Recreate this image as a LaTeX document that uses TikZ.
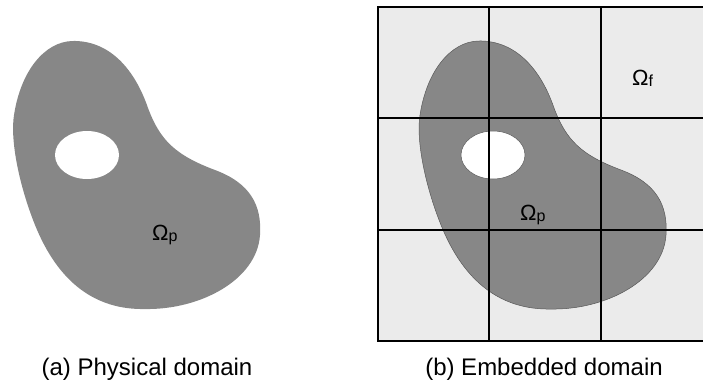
\documentclass[tikz,border=0pt]{standalone}
\usepackage{fontspec}
\setmainfont{Liberation Sans}
\begin{document}
\begin{tikzpicture}[x=1pt,y=-1pt,
  domainfill/.style={fill=domaingray},
  holefill/.style={fill=white},
  gridline/.style={draw=black,line width=1.8pt},
  outline/.style={draw=black!65,line width=0.5pt},
  caption/.style={font=\fontsize{24}{28}\selectfont,anchor=base,inner sep=0pt},
  omega/.style={font=\fontsize{22}{26}\selectfont,anchor=base west,inner sep=0pt}]
\definecolor{domaingray}{HTML}{878787}
\definecolor{cellgray}{HTML}{EBEBEB}
\useasboundingbox (0,0) rectangle (703,383);

% outline of the physical body (without its hole)
\newcommand{\bodypath}{(72,41)
  .. controls (110,40) and (135,70) .. (148,108)
  .. controls (160,140) and (175,155) .. (215,170)
  .. controls (250,183) and (262,205) .. (260,235)
  .. controls (257,280) and (200,310) .. (145,309)
  .. controls (95,310) and (58,282) .. (35,225)
  .. controls (19,185) and (10,140) .. (14,115)
  .. controls (21,70) and (45,42) .. (72,41) -- cycle}

% (a) physical domain
\fill[domainfill] \bodypath;
\fill[holefill] (87,155) ellipse [x radius=32, y radius=24];
\node[omega] (omp) at (152,240) {Ω\lower1.5pt\hbox{\fontsize{16}{16}\selectfont p}};
\node[caption] (capa) at (147,375) {(a) Physical domain};

% (b) embedded domain: background cells, body, grid on top
\fill[cellgray] (378,7) rectangle (713,341);
\begin{scope}[xshift=406pt]
  \fill[domainfill,outline] \bodypath;
  \filldraw[holefill,outline] (87,155) ellipse [x radius=32, y radius=24];
\end{scope}
\draw[gridline] (378,7) rectangle (713,341);
\foreach \gx in {489,601} \draw[gridline] (\gx,7) -- (\gx,341);
\foreach \gy in {118,230} \draw[gridline] (378,\gy) -- (713,\gy);
\node[omega] (omp2) at (520,220) {Ω\lower1.5pt\hbox{\fontsize{16}{16}\selectfont p}};
\node[omega] (omf) at (632,85) {Ω\lower1.5pt\hbox{\fontsize{16}{16}\selectfont f}};
\node[caption] (capb) at (544,375) {(b) Embedded domain};
\end{tikzpicture}
\end{document}
